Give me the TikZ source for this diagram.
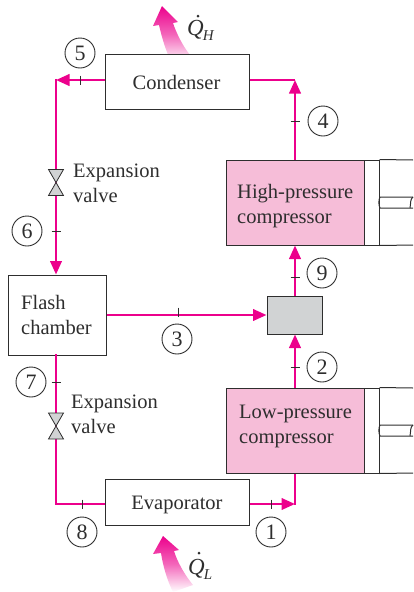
\documentclass[tikz,border=0pt]{standalone}
\usepackage{fontspec}
\setmainfont{Liberation Serif}
\usetikzlibrary{arrows.meta,calc}
\definecolor{pipec}{HTML}{EC008C}
\definecolor{compc}{HTML}{F6BDD8}
\definecolor{greyc}{HTML}{D1D3D4}
\definecolor{inkc}{HTML}{2E2E2E}
\newcommand{\qlab}[1]{{\fontsize{23}{23}\selectfont\itshape Q}\kern-1pt\raisebox{-5pt}{\fontsize{15}{15}\selectfont\itshape #1}}
\tikzset{
  every node/.style={text=inkc,font=\fontsize{20.5}{25}\selectfont},
  boxn/.style={draw=inkc,line width=1pt,fill=white,inner sep=0pt,align=center},
  comp/.style={boxn,fill=compc},
  pipe/.style={draw=pipec,line width=2.4pt},
  arr/.style={pipe,-{Triangle[length=13.5pt,width=11.5pt,fill=pipec]}},
  tick/.style={draw=inkc,line width=0.8pt},
  num/.style={circle,draw=inkc,line width=0.9pt,minimum size=30pt,inner sep=0pt,fill=white,font=\fontsize{22}{22}\selectfont},
  lab/.style={anchor=west,align=left,inner sep=0pt},
  txt/.style={inner sep=0pt,align=center},
  valveshape/.style={draw=inkc,line width=0.8pt,fill=greyc},
  cyl/.style={draw=inkc,line width=1pt},
  rod/.style={draw=inkc,line width=1pt},
  heat/.style={top color=pipec,bottom color=white,middle color=pipec!60}
}
\begin{document}
\begin{tikzpicture}[x=1pt,y=-1pt]
\useasboundingbox (0,0) rectangle (413,592);
% heat arrows
\path[heat]
  (172,63) .. controls (166,52) and (162,38) .. (159,25) -- (153,26) -- (162,6) -- (178,22) -- (173,23)
  .. controls (176,32) and (182,45) .. (190,55) -- cycle;
\path[heat]
  (173,592) .. controls (167,580) and (163,566) .. (161,553) -- (153,554) -- (163,536) -- (179,550) -- (174,551)
  .. controls (177,561) and (184,574) .. (193,585) -- cycle;
% boxes
\node[boxn,minimum width=144pt,minimum height=55pt] (cond) at (177,81.5) {};
\node[boxn,minimum width=144pt,minimum height=46pt] (evap) at (177,502) {};
\node[boxn,minimum width=98pt,minimum height=80pt] (flash) at (57,315) {};
\node[boxn,fill=greyc,minimum width=55pt,minimum height=38pt] (mix) at (294.5,315) {};
\node[comp,minimum width=138pt,minimum height=85pt] (hp) at (295,202.5) {};
\node[comp,minimum width=138pt,minimum height=85pt] (lp) at (295,430.5) {};
\node[boxn,minimum width=15pt,minimum height=85pt] (hpw) at (371.5,202.5) {};
\node[boxn,minimum width=15pt,minimum height=85pt] (lpw) at (371.5,430.5) {};
\node[txt] (tcond) at (176.5,82) {Condenser};
\node[txt] (tevap) at (177,505) {Evaporator};
\node[txt,anchor=west,align=left] (tflash) at (21,315) {Flash\\chamber};
\node[txt,anchor=west,align=left] (thp) at (237,206.5) {High-pressure\\compressor};
\node[txt,anchor=west,align=left] (tlp) at (239,426.5) {Low-pressure\\compressor};
% cylinders and rods
\coordinate (hpe1) at (413,160); \coordinate (hpe2) at (413,245);
\coordinate (lpe1) at (413,388); \coordinate (lpe2) at (413,473);
\draw[cyl] (hpw.north east) -- (hpe1) (hpw.south east) -- (hpe2);
\draw[cyl] (lpw.north east) -- (lpe1) (lpw.south east) -- (lpe2);
\draw[rod] (413,197) -- (380,197) .. controls (378.5,200) and (378.5,205) .. (380,208) -- (413,208);
\draw[rod] (413,197) .. controls (410,199) and (411,203) .. (410,208);
\draw[rod] (413,425) -- (380,425) .. controls (378.5,428) and (378.5,433) .. (380,436) -- (413,436);
\draw[rod] (413,425) .. controls (410,427) and (411,431) .. (410,436);
% corners
\coordinate (c1) at (56,80);
\coordinate (c2) at (295,80);
\coordinate (c3) at (56,504);
\coordinate (c4) at (295,504);
% pipes
\draw[arr] (cond.west |- c1) -- (c1);
\draw[arr] ($(c1)+(0,-1.2)$) -- (c1 |- flash.north);
\draw[pipe] (cond.east |- c2) -- (c2);
\draw[arr] (hp.north) -- (c2);
\draw[arr] (mix.north -| hp.south) -- (hp.south);
\draw[arr] (flash.east |- mix.west) -- (mix.west);
\draw[arr] (lp.north) -- (mix.south -| lp.north);
\draw[pipe,line cap=rect] (flash.south -| c3) -- (c3);
\draw[pipe] (c3) -- (evap.west |- c3);
\draw[pipe] (lp.south) -- ($(c4)+(0,1.2)$);
\draw[arr] (evap.east |- c4) -- (c4);
% valves
\foreach \v/\y in {va/182.5,vb/426}{
  \coordinate (\v) at (56,\y);
  \draw[valveshape] (\v) -- ($(\v)+(-7.5,-13)$) -- ($(\v)+(7.5,-13)$) -- cycle;
  \draw[valveshape] (\v) -- ($(\v)+(-7.5,13)$) -- ($(\v)+(7.5,13)$) -- cycle;
}
% ticks
\foreach \x/\y in {56/231,56/382,295/121,295/277,295/367}{\draw[tick] (\x-4.5,\y) -- (\x+4.5,\y);}
\foreach \x/\y in {80/80,82/504,178/312,271/504}{\draw[tick] (\x,\y-4.5) -- (\x,\y+4.5);}
% numbers
\node[num] (n5) at (80,53) {5};
\node[num] (n4) at (323,121) {4};
\node[num] (n6) at (27,231) {6};
\node[num] (n9) at (322,273) {9};
\node[num] (n3) at (177,339) {3};
\node[num] (n2) at (322,367) {2};
\node[num] (n7) at (31,382) {7};
\node[num] (n8) at (82,532) {8};
\node[num] (n1) at (271,532) {1};
% labels
\node[lab] (l1) at (73,183) {Expansion\\valve};
\node[lab] (l2) at (71,414) {Expansion\\valve};
\node[lab] (qh) at (187,30) {\qlab{H}};
\node[lab] (ql) at (188,569) {\qlab{L}};
\fill[inkc] (198,16) circle (1.5pt);
\fill[inkc] (199,553) circle (1.5pt);
\end{tikzpicture}
\end{document}
